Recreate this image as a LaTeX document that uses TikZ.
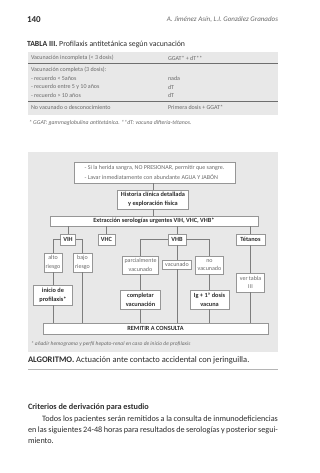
\documentclass[tikz,border=0pt]{standalone}
\usepackage{fontspec}
\setmainfont{Carlito}
\definecolor{bg}{RGB}{232,232,232}
\definecolor{boxline}{RGB}{150,150,150}
\definecolor{txt}{RGB}{45,45,45}
\definecolor{ltxt}{RGB}{105,105,105}
\definecolor{conn}{RGB}{125,125,125}
\definecolor{rule}{RGB}{110,110,110}
\newcommand{\fsz}[2]{\fontsize{#1}{#2}\selectfont}
\begin{document}
\begin{tikzpicture}[x=1pt,y=-1pt,
  every node/.style={inner sep=0pt, outer sep=0pt},
  fbox/.style={draw=boxline, fill=white, line width=0.5pt, align=center},
  boldbox/.style={fbox, text=txt, font=\bfseries\fsz{6.3}{8.8}},
  lightbox/.style={fbox, text=ltxt, font=\fsz{6}{8.6}},
  conline/.style={draw=conn, line width=0.5pt},
  tabtext/.style={anchor=west, text=ltxt, font=\fsz{6}{7}},
  bodytext/.style={anchor=west, text=txt, font=\fsz{8.2}{9}}
]
\useasboundingbox (0,0) rectangle (320,473);
\fill[white] (0,0) rectangle (320,473);

% header
\node[anchor=west, text=txt, font=\bfseries\fsz{9}{10}] (pg) at (27,20) {140};
\node[anchor=east, text=ltxt, font=\itshape\fsz{7}{8}] (auth) at (278,20) {A. Jiménez Asín, L.I. González Granados};

% table
\node[anchor=west, text=txt, font=\fsz{7.8}{9}] (tcap) at (27,44) {\textbf{TABLA III.} Profilaxis antitetánica según vacunación};
\fill[bg] (28,52) rectangle (278,115);
\draw[rule, line width=0.7pt] (28,63.5) -- (278,63.5);
\draw[rule, line width=0.7pt] (28,101) -- (278,101);
\node[tabtext] (r1a) at (31,58) {Vacunación incompleta (< 3 dosis)};
\node[tabtext] (r1b) at (168,58) {GGAT* + dT**};
\node[tabtext] (r2a) at (31,70) {Vacunación completa (3 dosis):};
\node[tabtext] (r3a) at (31,78.5) {- recuerdo < 5años};
\node[tabtext] (r3b) at (168,78.5) {nada};
\node[tabtext] (r4a) at (31,87) {- recuerdo entre 5 y 10 años};
\node[tabtext] (r4b) at (168,87) {dT};
\node[tabtext] (r5a) at (31,95.5) {- recuerdo > 10 años};
\node[tabtext] (r5b) at (168,95.5) {dT};
\node[tabtext] (r6a) at (31,107.5) {No vacunado o desconocimiento};
\node[tabtext] (r6b) at (168,107.5) {Primera dosis + GGAT*};
\node[anchor=west, text=ltxt, font=\itshape\fsz{5.8}{7}] (tnote) at (29,123) {* GGAT: gammaglobulina antitetánica. **dT: vacuna difteria-tétanos.};

% flowchart background
\fill[bg] (28,152) rectangle (278,352);

\node[fbox, text=ltxt, font=\fsz{6}{9.5}, align=left, minimum width=161pt, minimum height=21pt] (b1) at (154.5,172.5)
  {- Si la herida sangra, NO PRESIONAR, permitir que sangre.\\- Lavar inmediatamente con abundante AGUA Y JABÓN};
\node[boldbox, minimum width=71pt, minimum height=19pt] (hist) at (153,199.5) {Historia clínica detallada\\y exploración física};
\node[boldbox, minimum width=208pt, minimum height=10pt] (extr) at (154,221) {Extracción serologías urgentes VIH, VHC, VHB*};

\node[boldbox, minimum width=15pt, minimum height=10.5pt] (vih) at (68,239.5) {VIH};
\node[boldbox, minimum width=17pt, minimum height=10.5pt] (vhc) at (106.5,239.5) {VHC};
\node[boldbox, minimum width=18pt, minimum height=10.5pt] (vhb) at (177,239.5) {VHB};
\node[boldbox, minimum width=29pt, minimum height=10.5pt] (tet) at (250.5,239.5) {Tétanos};

\node[lightbox, minimum width=18pt, minimum height=19pt] (alto) at (53,262.5) {alto\\riesgo};
\node[lightbox, minimum width=19pt, minimum height=19pt] (bajo) at (82.5,262.5) {bajo\\riesgo};
\node[lightbox, minimum width=36pt, minimum height=18pt] (parc) at (140.5,265) {parcialmente\\vacunado};
\node[lightbox, minimum width=29pt, minimum height=9pt] (vac) at (177,264.5) {vacunado};
\node[lightbox, minimum width=28pt, minimum height=18pt] (novac) at (209.5,265) {no\\vacunado};
\node[lightbox, minimum width=28pt, minimum height=19pt] (vert) at (250.5,282.5) {ver tabla\\III};

\node[boldbox, minimum width=39pt, minimum height=20pt] (ini) at (53,295) {inicio de\\profilaxis*};
\node[boldbox, minimum width=40pt, minimum height=19pt] (comp) at (140.5,299.5) {completar\\vacunación};
\node[boldbox, minimum width=39pt, minimum height=19pt] (ig) at (209.5,299.5) {Ig + 1ª dosis\\vacuna};

\node[boldbox, minimum width=225pt, minimum height=11pt] (rem) at (155.5,328.5) {REMITIR A CONSULTA};

% connectors
\draw[conline] (hist.north |- b1.south) -- (hist.north);
\draw[conline] (hist.south) -- (extr.north -| hist.south);
\draw[conline] (extr.south -| vih.north) -- (vih.north);
\draw[conline] (extr.south -| vhc.north) -- (vhc.north);
\draw[conline] (extr.south -| vhb.north) -- (vhb.north);
\draw[conline] (extr.south -| tet.north) -- (tet.north);
\draw[conline] (vih.west) -| (alto.north);
\draw[conline] (vih.east) -| (bajo.north);
\draw[conline] (alto.south) -- (ini.north);
\draw[conline] (ini.south) -- (rem.north -| ini.south);
\draw[conline] (bajo.south) -- (rem.north -| bajo.south);
\draw[conline] (vhb.west) -| (parc.north);
\draw[conline] (vhb.south) -- (vac.north);
\draw[conline] (vhb.east) -| (novac.north);
\draw[conline] (parc.south) -- (comp.north);
\draw[conline] (comp.south) -- (rem.north -| comp.south);
\draw[conline] (vac.south) -- (rem.north -| vac.south);
\draw[conline] (novac.south) -- (ig.north);
\draw[conline] (ig.south) -- (rem.north -| ig.south);
\draw[conline] (tet.south) -- (vert.north);
\draw[conline] (vert.south) -- (rem.north -| vert.south);

\node[anchor=west, text=ltxt, font=\itshape\fsz{5.5}{7}] (fnote) at (31,344) {* añadir hemograma y perfil hepato-renal en caso de inicio de profilaxis};

% caption
\node[anchor=west, text=txt, font=\fsz{8.5}{9}] (alg) at (28,360) {\textbf{ALGORITMO.} Actuación ante contacto accidental con jeringuilla.};
\draw[draw=boxline!70, line width=0.8pt] (28,369) -- (278,369);

% body text
\node[anchor=west, text=txt, font=\bfseries\fsz{8.2}{9}] (crit) at (28,407) {Criterios de derivación para estudio};
\node[bodytext] (p1) at (42,419) {\makebox[236pt][s]{Todos los pacientes serán remitidos a la consulta de inmunodeficiencias}};
\node[bodytext] (p2) at (28,430) {\makebox[250pt][s]{en las siguientes 24-48 horas para resultados de serologías y posterior segui-}};
\node[bodytext] (p3) at (28,441) {miento.};
\end{tikzpicture}
\end{document}
